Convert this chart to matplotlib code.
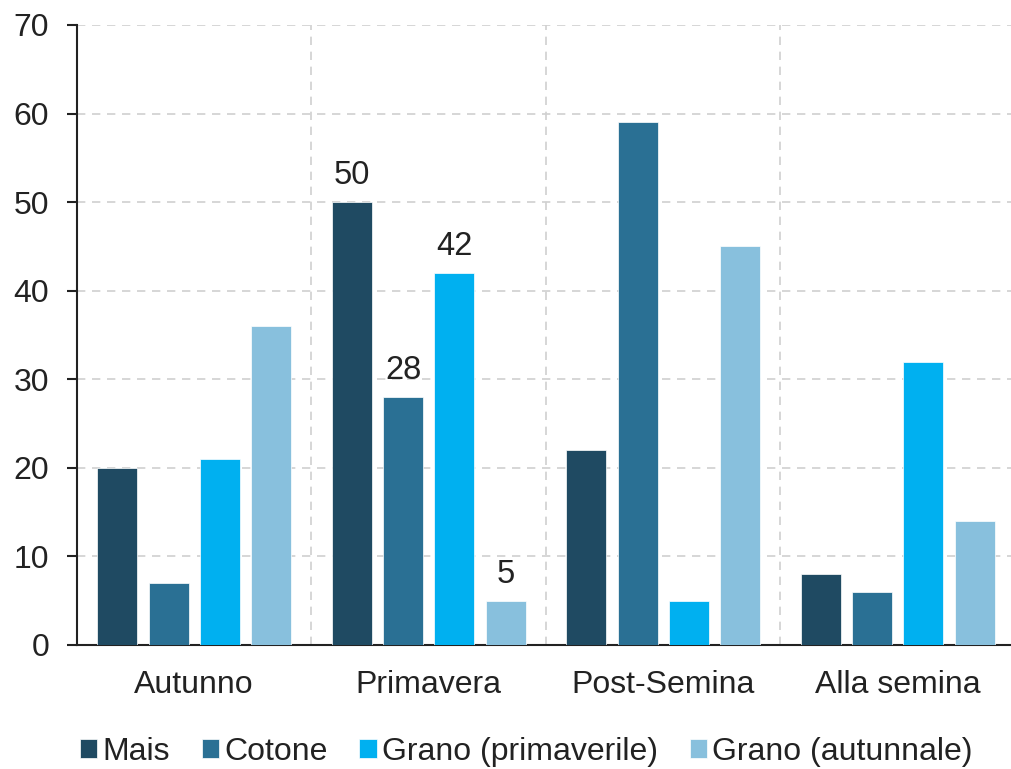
import numpy as np
import matplotlib.pyplot as plt

plt.rcParams['font.family'] = ['Liberation Sans', 'DejaVu Sans']

# data
categories = ['Autunno', 'Primavera', 'Post-Semina', 'Alla semina']
series_names = ['Mais', 'Cotone', 'Grano (primaverile)', 'Grano (autunnale)']
mais = [20, 50, 22, 8]
cotone = [7, 28, 59, 6]
grano_prim = [21, 42, 5, 32]
grano_aut = [36, 5, 45, 14]
colors = ['#1f4a62', '#2a7094', '#00b0f0', '#88c0dd']
labelled_group = 1  # only Primavera has value labels

series = [mais, cotone, grano_prim, grano_aut]

fig = plt.figure(figsize=(10.12, 7.69), dpi=100)
ax = fig.add_axes([77 / 1012, 1 - 645 / 769, 938 / 1012, 620 / 769])

x = np.arange(len(categories))
pitch = 0.219
width = 0.17
for i, (vals, name, c) in enumerate(zip(series, series_names, colors)):
    pos = x + (i - 1.5) * pitch
    bars = ax.bar(pos, vals, width, color=c, label=name, zorder=3,
                  edgecolor='white', linewidth=0.5)
    b = bars[labelled_group]
    ax.annotate(str(vals[labelled_group]),
                (b.get_x() + b.get_width() / 2, b.get_height()),
                xytext=(0, 8), textcoords='offset points',
                ha='center', va='bottom', fontsize=23.5, color='#222222')

ax.set_xlim(-0.5, len(categories) - 0.5)
ax.set_ylim(0, 70)
ax.set_yticks(range(0, 71, 10))
ax.set_xticks(x)
ax.set_xticklabels(categories)
ax.set_xticks(x[:-1] + 0.5, minor=True)

ax.grid(axis='y', which='major', linestyle=(0, (5, 4)), color='#d0d0d0', linewidth=1.2, zorder=0)
ax.grid(axis='x', which='minor', linestyle=(0, (5, 4)), color='#d0d0d0', linewidth=1.2, zorder=0)
ax.grid(axis='x', which='major', visible=False)

for s in ['top', 'right']:
    ax.spines[s].set_visible(False)
ax.spines['left'].set_color('#222222')
ax.spines['bottom'].set_color('#222222')
ax.spines['left'].set_linewidth(1.5)
ax.spines['bottom'].set_linewidth(1.5)

ax.tick_params(axis='y', labelsize=23, length=7, width=1.5, color='#222222', labelcolor='#222222', pad=13)
ax.tick_params(axis='x', which='both', length=0, labelsize=23, labelcolor='#222222', pad=18)

ax.legend(loc='center left', bbox_to_anchor=(0.003, -0.1726), ncol=4, frameon=False,
          fontsize=23, handlelength=0.55, handleheight=0.55, handletextpad=0.15,
          columnspacing=1.0, borderaxespad=0, borderpad=0, labelcolor='#222222')

fig.savefig('out.png', dpi=100)
